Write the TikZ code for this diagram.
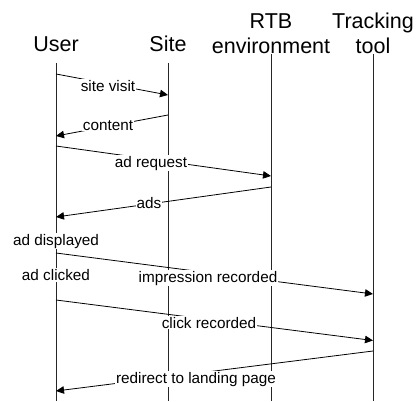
\documentclass[tikz,border=0pt]{standalone}
\usepackage{fontspec}
\setmainfont{Liberation Sans}
\usetikzlibrary{arrows.meta}
\begin{document}
\begin{tikzpicture}[x=1pt,y=-1pt,
  actor/.style={font=\fontsize{21.5}{25}\selectfont,anchor=base,inner sep=0pt,align=center},
  life/.style={line width=0.9pt,black!85},
  msg/.style={line width=0.8pt,-{Triangle[length=8pt,width=7.5pt]}},
  lbl/.style={font=\fontsize{15.3}{18}\selectfont,anchor=base,fill=white,inner sep=1pt}]
\useasboundingbox (0,0) rectangle (417,401);
% actors
\node[actor] (user) at (56,52) {User};
\node[actor] (site) at (168,52) {Site};
\node[actor] (rtb1) at (271,29) {RTB};
\node[actor] (rtb) at (271,54) {environment};
\node[actor] (trk1) at (373,29) {Tracking};
\node[actor] (trk) at (373,54) {tool};
% lifeline ends
\coordinate (uT) at (56,63);   \coordinate (uB) at (56,401);
\coordinate (sT) at (168,63);  \coordinate (sB) at (168,401);
\coordinate (rT) at (271,54);  \coordinate (rB) at (271,401);
\coordinate (tT) at (373,54);  \coordinate (tB) at (373,401);
\draw[life] (uT) -- (uB);
\draw[life] (sT) -- (sB);
\draw[life] (rT) -- (rB);
\draw[life] (tT) -- (tB);
% message endpoints
\coordinate (m1a) at (56,74);   \coordinate (m1b) at (168,95);
\coordinate (m2a) at (168,115); \coordinate (m2b) at (56,136);
\coordinate (m3a) at (56,146);  \coordinate (m3b) at (271,176);
\coordinate (m4a) at (271,187); \coordinate (m4b) at (56,217);
\coordinate (m5a) at (56,253);  \coordinate (m5b) at (373,294);
\coordinate (m6a) at (56,300);  \coordinate (m6b) at (373,340.5);
\coordinate (m7a) at (373,351); \coordinate (m7b) at (56,391);
\draw[msg] (m1a) -- (m1b);
\draw[msg] (m2a) -- (m2b);
\draw[msg] (m3a) -- (m3b);
\draw[msg] (m4a) -- (m4b);
\draw[msg] (m5a) -- (m5b);
\draw[msg] (m6a) -- (m6b);
\draw[msg] (m7a) -- (m7b);
% labels
\node[lbl] (l1) at (108,91.5) {site visit};
\node[lbl] (l2) at (108,130) {content};
\node[lbl] (l3) at (151,167) {ad request};
\node[lbl] (l4) at (149,208) {ads};
\node[lbl] (l5) at (56,245) {ad displayed};
\node[lbl] (l6) at (56,280.5) {ad clicked};
\node[lbl] (l7) at (208,282) {impression recorded};
\node[lbl] (l8) at (209,328) {click recorded};
\node[lbl] (l9) at (196,383) {redirect to landing page};
\end{tikzpicture}
\end{document}
